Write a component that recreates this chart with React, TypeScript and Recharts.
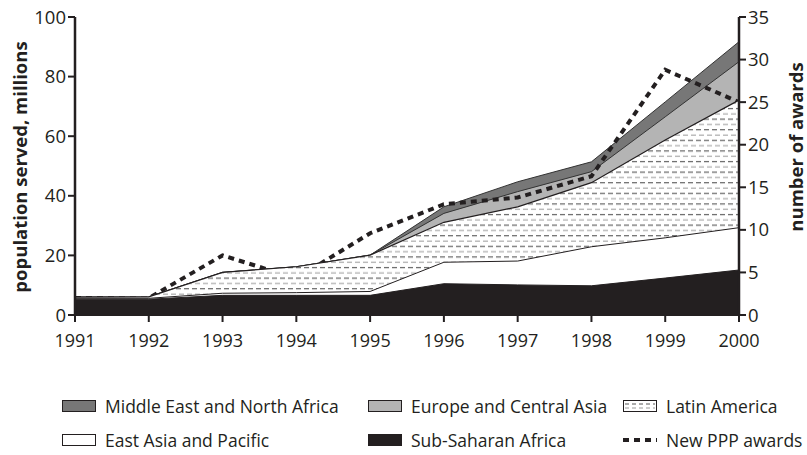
import React from 'react';
import { ComposedChart, Area, XAxis, YAxis } from 'recharts';

// years on the x axis
const years = [1991, 1992, 1993, 1994, 1995, 1996, 1997, 1998, 1999, 2000];

// population served, millions (per region, stacked bottom to top)
const subSaharanAfrica = [5.3, 5.3, 6.6, 6.6, 6.6, 10.5, 10.1, 9.8, 12.4, 15.1];
const eastAsiaPacific = [0.3, 0.3, 0.7, 0.9, 1.3, 7.2, 8.0, 13.1, 13.5, 14.2];
const latinAmerica = [0.4, 0.5, 7.0, 8.7, 12.2, 13.4, 18.2, 21.5, 32.8, 42.8];
const europeCentralAsia = [0, 0, 0, 0, 0, 3.0, 5.1, 3.7, 7.8, 12.9];
const middleEastNorthAfrica = [0, 0, 0, 0, 0, 2.2, 3.3, 3.3, 5.0, 6.7];

// number of new PPP awards (right axis)
const newAwards = [2, 2, 7, 4.3, 9.6, 13, 13.8, 16.3, 28.8, 25];

const leftTicks = [0, 20, 40, 60, 80, 100];
const rightTicks = [0, 5, 10, 15, 20, 25, 30, 35];

const FONT = '"Open Sans", sans-serif';

// cumulative tops so each band is drawn from 0 and covered by the one below it
const data = years.map((year, i) => {
  const ssa = subSaharanAfrica[i];
  const eap = ssa + eastAsiaPacific[i];
  const lat = eap + latinAmerica[i];
  const eur = lat + europeCentralAsia[i];
  const mena = eur + middleEastNorthAfrica[i];
  return { year, ssa, eap, lat, eur, mena, awards: newAwards[i] };
});

const tickStyle = { fontSize: 18.5, fill: '#231f20', fontFamily: FONT };

const Swatch = ({ kind }: { kind: string }) => {
  if (kind === 'dash') {
    return (
      <svg width={34} height={12} style={{ display: 'block' }}>
        <line x1={0} y1={6} x2={34} y2={6} stroke="#231f20" strokeWidth={4} strokeDasharray="6 5" />
      </svg>
    );
  }
  if (kind === 'pattern') {
    return (
      <svg width={34} height={12} style={{ display: 'block' }}>
        <rect x={0.5} y={0.5} width={33} height={11} fill="#fff" stroke="#231f20" />
        <line x1={2} y1={4} x2={32} y2={4} stroke="#555" strokeDasharray="4 3" />
        <line x1={2} y1={8} x2={32} y2={8} stroke="#999" strokeDasharray="4 3" />
      </svg>
    );
  }
  return (
    <div style={{ width: 32, height: 10, background: kind, border: '1px solid #231f20' }} />
  );
};

const legendRows = [
  [
    { label: 'Middle East and North Africa', kind: '#777777' },
    { label: 'Europe and Central Asia', kind: '#b4b4b4' },
    { label: 'Latin America', kind: 'pattern' },
  ],
  [
    { label: 'East Asia and Pacific', kind: '#ffffff' },
    { label: 'Sub-Saharan Africa', kind: '#231f20' },
    { label: 'New PPP awards', kind: 'dash' },
  ],
];
const legendCols = [62, 368, 623];
const legendRowY = [406, 440];

export default function App() {
  return (
    <div style={{ position: 'absolute', left: 0, top: 0, width: 807, height: 455, background: '#fff', fontFamily: FONT, color: '#231f20' }}>
      <ComposedChart width={807} height={360} data={data} margin={{ top: 17, right: 0, bottom: 0, left: 0 }}>
        <defs>
          <pattern id="latinPattern" patternUnits="userSpaceOnUse" width={8} height={10.6}>
            <rect x={0} y={0} width={8} height={10.6} fill="#fff" />
            <line x1={0} y1={2.6} x2={5} y2={2.6} stroke="#444" strokeWidth={1} />
            <line x1={3} y1={7.9} x2={8} y2={7.9} stroke="#999" strokeWidth={1} />
          </pattern>
        </defs>
        <XAxis
          dataKey="year"
          type="number"
          domain={[1991, 2000]}
          ticks={years}
          height={45}
          tick={{ ...tickStyle, fontSize: 18 }}
          tickSize={7}
          tickMargin={12}
          axisLine={{ stroke: '#231f20', strokeWidth: 2 }}
          tickLine={{ stroke: '#231f20', strokeWidth: 2 }}
        />
        <YAxis
          yAxisId="left"
          domain={[0, 100]}
          ticks={leftTicks}
          width={75}
          tick={tickStyle}
          tickSize={7}
          tickMargin={2}
          axisLine={{ stroke: '#231f20', strokeWidth: 2.5 }}
          tickLine={{ stroke: '#231f20', strokeWidth: 2 }}
        />
        <YAxis
          yAxisId="right"
          orientation="right"
          domain={[0, 35]}
          ticks={rightTicks}
          width={68}
          tick={tickStyle}
          tickSize={7}
          tickMargin={2}
          axisLine={{ stroke: '#231f20', strokeWidth: 2.5 }}
          tickLine={{ stroke: '#231f20', strokeWidth: 2 }}
        />
        <Area yAxisId="left" type="linear" dataKey="mena" fill="#777777" fillOpacity={1} stroke="#333" strokeWidth={1} isAnimationActive={false} />
        <Area yAxisId="left" type="linear" dataKey="eur" fill="#b4b4b4" fillOpacity={1} stroke="#333" strokeWidth={1} isAnimationActive={false} />
        {/* awards drawn as an unfilled area so the Latin America band can cover it */}
        <Area yAxisId="right" type="linear" dataKey="awards" fill="none" fillOpacity={0} stroke="#231f20" strokeWidth={4} strokeDasharray="6 5" isAnimationActive={false} />
        <Area yAxisId="left" type="linear" dataKey="lat" fill="url(#latinPattern)" fillOpacity={1} stroke="#231f20" strokeWidth={1.2} isAnimationActive={false} />
        <Area yAxisId="left" type="linear" dataKey="eap" fill="#ffffff" fillOpacity={1} stroke="#231f20" strokeWidth={1} isAnimationActive={false} />
        <Area yAxisId="left" type="linear" dataKey="ssa" fill="#231f20" fillOpacity={1} stroke="#231f20" strokeWidth={1} isAnimationActive={false} />
      </ComposedChart>

      <div style={{ position: 'absolute', left: 19, top: 167, transform: 'translate(-50%, -50%) rotate(-90deg)', whiteSpace: 'nowrap', fontWeight: 700, fontSize: 18.5 }}>
        population served, millions
      </div>
      <div style={{ position: 'absolute', left: 795, top: 147, transform: 'translate(-50%, -50%) rotate(-90deg)', whiteSpace: 'nowrap', fontWeight: 700, fontSize: 18.5 }}>
        number of awards
      </div>

      {legendRows.map((row, r) =>
        row.map((item, c) => (
          <div
            key={item.label}
            style={{ position: 'absolute', left: legendCols[c], top: legendRowY[r], transform: 'translateY(-50%)', display: 'flex', alignItems: 'center', gap: 9, fontSize: 17.5, whiteSpace: 'nowrap' }}
          >
            <Swatch kind={item.kind} />
            <span>{item.label}</span>
          </div>
        ))
      )}
    </div>
  );
}
